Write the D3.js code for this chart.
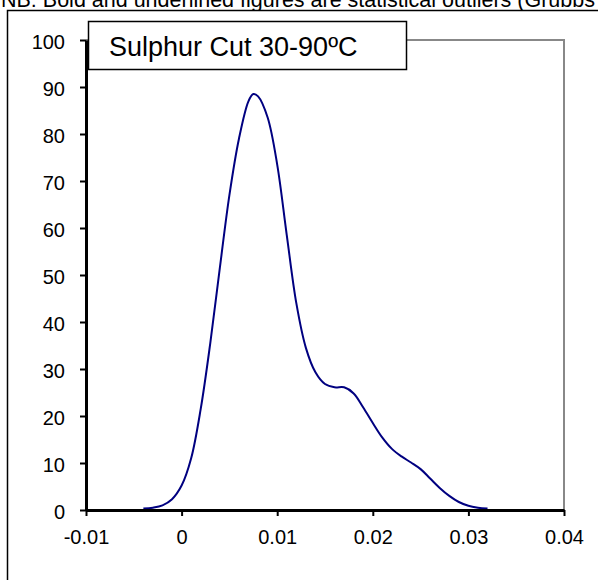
<!DOCTYPE html>
<html>
<head>
<meta charset="utf-8">
<script src="https://cdn.jsdelivr.net/npm/d3@7"></script>
<style>
  body { margin: 0; background: #fff; }
  text { font-family: Arial, "Liberation Sans", sans-serif; }
</style>
</head>
<body>
<script>
// values (Sulphur content vs frequency)
var xVals = [-0.004, -0.003, -0.002, -0.001, 0.000, 0.001, 0.002, 0.003, 0.004, 0.005,
             0.006, 0.007, 0.0075, 0.008, 0.009, 0.010, 0.011, 0.012, 0.013, 0.014,
             0.015, 0.016, 0.017, 0.018, 0.019, 0.020, 0.021, 0.022, 0.023, 0.024,
             0.025, 0.026, 0.027, 0.028, 0.029, 0.030, 0.031, 0.032];
var yVals = [0.3, 0.5, 1.0, 2.3, 5.2, 11.0, 21.5, 35.5, 51.5, 67.0,
             79.0, 87.0, 88.5, 88.0, 83.5, 73.5, 58.5, 44.0, 34.5, 29.3,
             26.8, 26.1, 26.1, 24.8, 21.8, 18.5, 15.4, 13.0, 11.4, 10.1,
             8.7, 6.7, 4.7, 3.0, 1.7, 0.9, 0.5, 0.3];

var xTicks = [-0.01, 0, 0.01, 0.02, 0.03, 0.04];
var xTickLabels = ["-0.01", "0", "0.01", "0.02", "0.03", "0.04"];
var yTicks = [0, 10, 20, 30, 40, 50, 60, 70, 80, 90, 100];

var chartTitle = "Sulphur Cut 30-90\u00BAC";
var noteText = "NB: Bold and underlined figures are statistical outliers (Grubbs test at 95% confidence)";

var width = 598, height = 580;
var plot = {left: 86, right: 564, top: 40, bottom: 510};

var svg = d3.select("body").append("svg")
    .attr("width", width)
    .attr("height", height);

// note line at very top (cut off by the crop)
svg.append("text")
    .attr("x", 1)
    .attr("y", 7)
    .style("font-size", "21.5px")
    .text(noteText);

// outer chart frame
svg.append("rect")
    .attr("x", 7.5)
    .attr("y", 10.5)
    .attr("width", 700)
    .attr("height", 700)
    .attr("fill", "#fff")
    .attr("stroke", "#000")
    .attr("stroke-width", 1.5);

var x = d3.scaleLinear().domain([-0.01, 0.04]).range([plot.left, plot.right]);
var y = d3.scaleLinear().domain([0, 100]).range([plot.bottom, plot.top]);

// plot area border (gray top and right)
svg.append("path")
    .attr("d", "M" + plot.left + "," + plot.top + "H" + plot.right + "V" + plot.bottom)
    .attr("fill", "none")
    .attr("stroke", "#888")
    .attr("stroke-width", 2);

// curve
var line = d3.line()
    .x(function(d, i) { return x(xVals[i]); })
    .y(function(d, i) { return y(yVals[i]); })
    .curve(d3.curveCatmullRom.alpha(0.5));

svg.append("path")
    .datum(xVals)
    .attr("d", line)
    .attr("fill", "none")
    .attr("stroke", "#000080")
    .attr("stroke-width", 2);

// axes
var xAxis = d3.axisBottom(x)
    .tickValues(xTicks)
    .tickFormat(function(d, i) { return xTickLabels[i]; })
    .tickSizeInner(6)
    .tickSizeOuter(0)
    .tickPadding(14);

var yAxis = d3.axisLeft(y)
    .tickValues(yTicks)
    .tickSizeInner(6)
    .tickSizeOuter(0)
    .tickPadding(15);

var gx = svg.append("g")
    .attr("transform", "translate(0," + plot.bottom + ")")
    .call(xAxis);

var gy = svg.append("g")
    .attr("transform", "translate(" + plot.left + ",0)")
    .call(yAxis);

[gx, gy].forEach(function(g) {
  g.select(".domain").attr("stroke", "#000").attr("stroke-width", 3);
  g.selectAll(".tick line").attr("stroke", "#000").attr("stroke-width", 2);
  g.selectAll(".tick text")
      .attr("fill", "#000")
      .style("font-family", "Arial, 'Liberation Sans', sans-serif")
      .style("font-size", "20px");
});
gy.selectAll(".tick text").attr("dy", "0.4em");

// title box
svg.append("rect")
    .attr("x", 88.5)
    .attr("y", 21.5)
    .attr("width", 318)
    .attr("height", 48)
    .attr("fill", "#fff")
    .attr("stroke", "#000")
    .attr("stroke-width", 1.5);

svg.append("text")
    .attr("x", 109)
    .attr("y", 56)
    .style("font-size", "27px")
    .text(chartTitle);
</script>
</body>
</html>
